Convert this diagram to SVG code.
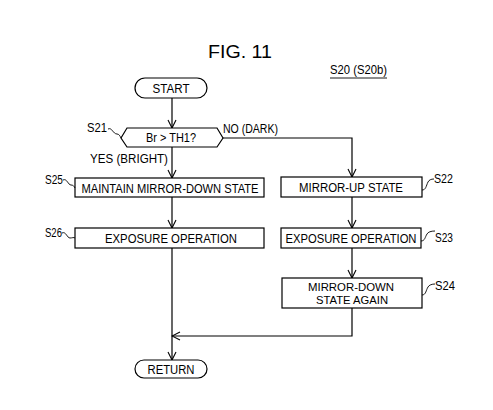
<svg xmlns="http://www.w3.org/2000/svg" width="493" height="410" viewBox="0 0 493 410">
<defs>
<marker id="arr" markerWidth="10" markerHeight="10" refX="9" refY="5" orient="auto" markerUnits="userSpaceOnUse">
<path d="M1,1 L9,5 L1,9" fill="none" stroke="#000" stroke-width="1.1"/>
</marker>
</defs>
<style>
.shape{fill:#fff;stroke:#000;stroke-width:1.2}
.line{fill:none;stroke:#000;stroke-width:1.2}
.lead{fill:none;stroke:#000;stroke-width:0.9}
text{font-family:"Liberation Sans",Arial,sans-serif;font-size:12.5px;fill:#000}
.c{text-anchor:middle}
.sm{font-size:11.5px}
</style>
<rect width="493" height="410" fill="#fff"/>
<text x="240" y="58" class="c" style="font-size:18px" textLength="64" lengthAdjust="spacingAndGlyphs">FIG. 11</text>
<g id="ref">
<text x="330" y="74" textLength="57" lengthAdjust="spacingAndGlyphs">S20 (S20b)</text>
<line x1="330" y1="78" x2="387" y2="78" class="lead"/>
</g>
<g id="connectors">
<line x1="172" y1="98" x2="172" y2="128" class="line" marker-end="url(#arr)"/>
<line x1="172" y1="147" x2="172" y2="178" class="line" marker-end="url(#arr)"/>
<polyline points="223,138 352,138 352,177" class="line" marker-end="url(#arr)"/>
<line x1="172" y1="197" x2="172" y2="228" class="line" marker-end="url(#arr)"/>
<line x1="352" y1="197" x2="352" y2="228" class="line" marker-end="url(#arr)"/>
<line x1="352" y1="248" x2="352" y2="278" class="line" marker-end="url(#arr)"/>
<polyline points="352,308 352,336 172,336" class="line" marker-end="url(#arr)"/>
<line x1="172" y1="248" x2="172" y2="360" class="line" marker-end="url(#arr)"/>
<text x="223" y="133" textLength="55" lengthAdjust="spacingAndGlyphs">NO (DARK)</text>
<text x="90" y="163" textLength="78" lengthAdjust="spacingAndGlyphs">YES (BRIGHT)</text>
</g>
<g id="start">
<rect x="135" y="78" width="72" height="20" rx="10" class="shape"/>
<text x="171" y="93" class="c" textLength="37" lengthAdjust="spacingAndGlyphs">START</text>
</g>
<g id="s21">
<polygon points="121,138 127,128 217,128 223,138 217,147 127,147" class="shape"/>
<text x="171" y="142" class="c" textLength="50" lengthAdjust="spacingAndGlyphs">Br &gt; TH1?</text>
<text x="87" y="132" textLength="20" lengthAdjust="spacingAndGlyphs">S21</text>
<path d="M108,129 C112,127 113,134 117,134 C119,134 120,136 121,138" class="lead"/>
</g>
<g id="s25">
<rect x="75" y="178" width="189" height="19" class="shape"/>
<text x="170" y="193" class="c" textLength="177" lengthAdjust="spacingAndGlyphs">MAINTAIN MIRROR-DOWN STATE</text>
<text x="45" y="184" textLength="18" lengthAdjust="spacingAndGlyphs">S25</text>
<path d="M63,180 C67,178 68,185 71,185 C73,185 74,186 75,188" class="lead"/>
</g>
<g id="s26">
<rect x="75" y="228" width="189" height="20" class="shape"/>
<text x="171" y="243" class="c" textLength="132" lengthAdjust="spacingAndGlyphs">EXPOSURE OPERATION</text>
<text x="45" y="237" textLength="17" lengthAdjust="spacingAndGlyphs">S26</text>
<path d="M62,233 C66,231 67,238 70,238 C72,238 74,237 75,238" class="lead"/>
</g>
<g id="s22">
<rect x="281" y="177" width="141" height="20" class="shape"/>
<text x="351" y="192" class="c" textLength="104" lengthAdjust="spacingAndGlyphs">MIRROR-UP STATE</text>
<text x="434" y="183" textLength="19" lengthAdjust="spacingAndGlyphs">S22</text>
<path d="M422,190 C426,190 426,186 428,182 C429,180 431,179 434,179" class="lead"/>
</g>
<g id="s23">
<rect x="281" y="228" width="140" height="20" class="shape"/>
<text x="351" y="243" class="c" textLength="131" lengthAdjust="spacingAndGlyphs">EXPOSURE OPERATION</text>
<text x="435" y="242" textLength="18" lengthAdjust="spacingAndGlyphs">S23</text>
<path d="M421,241 C425,241 425,237 427,234 C428,232 431,231 435,231" class="lead"/>
</g>
<g id="s24">
<rect x="282" y="278" width="140" height="30" class="shape"/>
<text x="351" y="291" class="c sm" textLength="86" lengthAdjust="spacingAndGlyphs">MIRROR-DOWN</text>
<text x="352" y="304" class="c sm" textLength="72" lengthAdjust="spacingAndGlyphs">STATE AGAIN</text>
<text x="435" y="290" textLength="20" lengthAdjust="spacingAndGlyphs">S24</text>
<path d="M422,295 C426,295 426,290 428,287 C429,285 432,284 435,284" class="lead"/>
</g>
<g id="return">
<rect x="135" y="360" width="72" height="18" rx="9" class="shape"/>
<text x="171" y="374" class="c" textLength="47" lengthAdjust="spacingAndGlyphs">RETURN</text>
</g>
</svg>
